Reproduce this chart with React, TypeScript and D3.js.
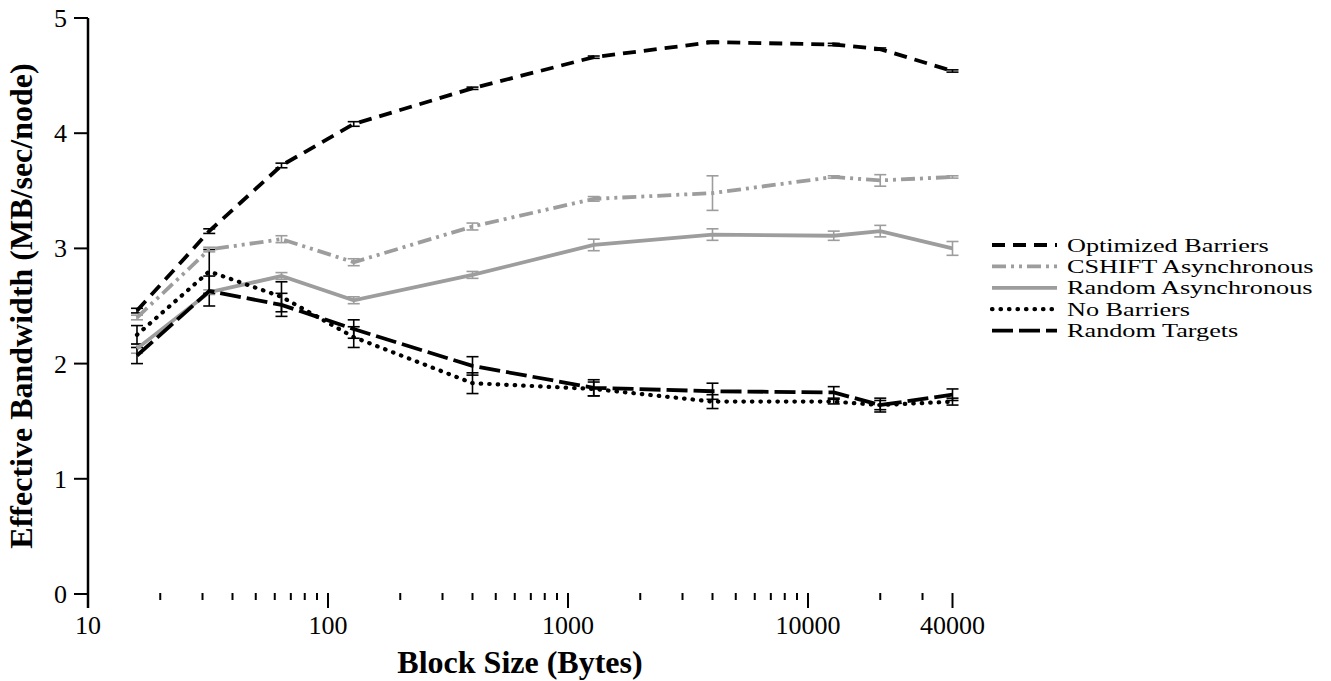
import React from "react";
import * as d3 from "d3";

const width = 1331;
const height = 681;

// block sizes (bytes) on the log axis
const blockSizes = [16, 32, 64, 128, 400, 1280, 4000, 12800, 20000, 40000];

const optimized = [2.46, 3.15, 3.72, 4.08, 4.39, 4.66, 4.79, 4.77, 4.73, 4.54];
const optimizedErr = [0.02, 0.02, 0.02, 0.02, 0.01, 0.01, 0.01, 0.01, 0.01, 0.01];

const cshift = [2.4, 2.99, 3.08, 2.88, 3.19, 3.43, 3.48, 3.62, 3.59, 3.62];
const cshiftErr = [0.02, 0.02, 0.03, 0.03, 0.03, 0.02, 0.15, 0.01, 0.05, 0.01];

const randomAsync = [2.13, 2.62, 2.76, 2.55, 2.77, 3.03, 3.12, 3.11, 3.15, 3.0];
const randomAsyncErr = [0.04, 0.02, 0.03, 0.03, 0.03, 0.05, 0.05, 0.04, 0.05, 0.06];

const noBarriers = [2.25, 2.8, 2.58, 2.23, 1.83, 1.78, 1.67, 1.67, 1.64, 1.67];
const noBarriersErr = [0.08, 0.19, 0.13, 0.09, 0.09, 0.06, 0.06, 0.02, 0.04, 0.03];

const randomTargets = [2.07, 2.63, 2.51, 2.3, 1.98, 1.79, 1.76, 1.75, 1.64, 1.73];
const randomTargetsErr = [0.07, 0.13, 0.1, 0.08, 0.08, 0.07, 0.07, 0.05, 0.06, 0.05];

const xLabels = [10, 100, 1000, 10000, 40000];
const yLabels = [0, 1, 2, 3, 4, 5];

const GRAY = "#9d9d9d";
const font = "'Liberation Serif', 'Times New Roman', serif";

const series = [
  { name: "Optimized Barriers", values: optimized, err: optimizedErr, color: "#000", dash: "13,8", cap: "butt" },
  { name: "CSHIFT Asynchronous", values: cshift, err: cshiftErr, color: GRAY, dash: "14,5,3,5,3,5", cap: "butt" },
  { name: "Random Asynchronous", values: randomAsync, err: randomAsyncErr, color: GRAY, dash: null, cap: "butt" },
  { name: "No Barriers", values: noBarriers, err: noBarriersErr, color: "#000", dash: "0.5,8", cap: "round" },
  { name: "Random Targets", values: randomTargets, err: randomTargetsErr, color: "#000", dash: "21,6", cap: "butt" },
];

const x = d3.scaleLog().domain([10, 40000]).range([88, 952.5]);
const y = d3.scaleLinear().domain([0, 5]).range([594, 18]);

const line = d3
  .line<number>()
  .x((d, i) => x(blockSizes[i]))
  .y((d) => y(d));

export default function App() {
  const ticks = x.ticks();
  return (
    <svg
      width={width}
      height={height}
      style={{ position: "absolute", left: 0, top: 0, background: "#fff" }}
      fontFamily={font}
    >
      {/* y axis */}
      <line x1={88} x2={88} y1={18} y2={608} stroke="#000" strokeWidth={2.5} />
      {yLabels.map((v) => (
        <g key={v}>
          <line x1={74} x2={88} y1={y(v)} y2={y(v)} stroke="#000" strokeWidth={2} />
          <text x={67} y={y(v) + 9} textAnchor="end" fontSize={26}>
            {v}
          </text>
        </g>
      ))}

      {/* x ticks, no axis line */}
      {ticks.map((t) => {
        const major = xLabels.includes(t);
        if (t === 10) return null;
        return (
          <line
            key={t}
            x1={x(t)}
            x2={x(t)}
            y1={593}
            y2={major ? 608 : 600}
            stroke="#000"
            strokeWidth={2}
          />
        );
      })}
      {xLabels.map((t) => (
        <text key={t} x={x(t)} y={634} textAnchor="middle" fontSize={26}>
          {t}
        </text>
      ))}

      <text x={520} y={673} textAnchor="middle" fontSize={32} fontWeight="bold">
        Block Size (Bytes)
      </text>
      <text
        transform={`translate(32, 306) rotate(-90)`}
        textAnchor="middle"
        fontSize={32}
        fontWeight="bold"
      >
        Effective Bandwidth (MB/sec/node)
      </text>

      {/* error bars */}
      {series.map((s) => (
        <g key={s.name + "err"} stroke={s.color} strokeWidth={1.6}>
          {s.values.map((v, i) => {
            const cx = x(blockSizes[i]);
            const y0 = y(v - s.err[i]);
            const y1 = y(v + s.err[i]);
            return (
              <g key={i}>
                <line x1={cx} x2={cx} y1={y0} y2={y1} />
                <line x1={cx - 6} x2={cx + 6} y1={y0} y2={y0} />
                <line x1={cx - 6} x2={cx + 6} y1={y1} y2={y1} />
              </g>
            );
          })}
        </g>
      ))}

      {/* lines */}
      {series.map((s) => (
        <path
          key={s.name}
          d={line(s.values) || ""}
          fill="none"
          stroke={s.color}
          strokeWidth={s.cap === "round" ? 4.2 : 3.8}
          strokeLinecap={s.cap as any}
          strokeDasharray={s.dash || undefined}
        />
      ))}

      {/* legend */}
      {series.map((s, i) => {
        const ly = 245 + i * 21.4;
        return (
          <g key={s.name + "leg"}>
            <line
              x1={992}
              x2={1057}
              y1={ly}
              y2={ly}
              stroke={s.color}
              strokeWidth={s.cap === "round" ? 4.2 : 3.8}
              strokeLinecap={s.cap as any}
              strokeDasharray={s.dash || undefined}
            />
            <text
              transform={`translate(1067, ${ly + 6.5}) scale(1.36, 1)`}
              fontSize={19.3}
            >
              {s.name}
            </text>
          </g>
        );
      })}
    </svg>
  );
}
